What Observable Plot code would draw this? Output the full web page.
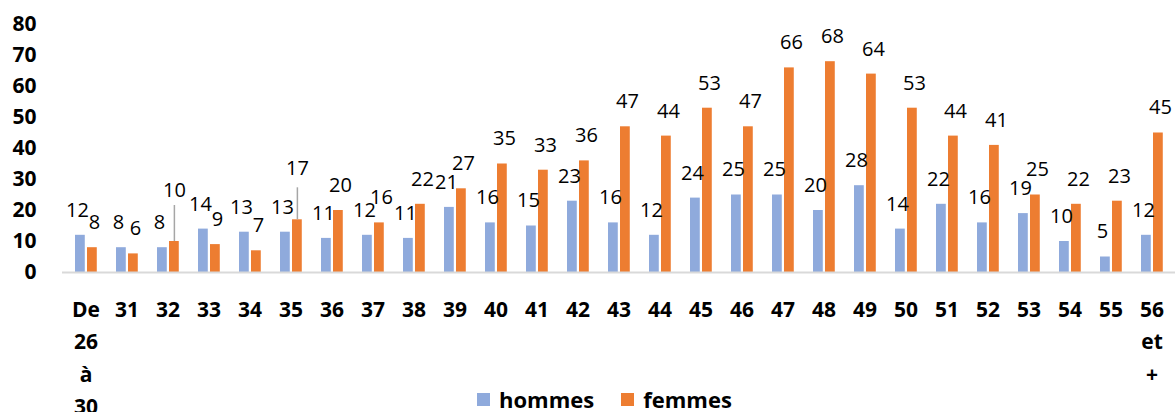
<!DOCTYPE html>
<html>
<head>
<meta charset="utf-8">
<script src="https://cdn.jsdelivr.net/npm/d3@7"></script>
<script src="https://cdn.jsdelivr.net/npm/@observablehq/plot@0.6"></script>
<style>
  html, body { margin: 0; padding: 0; background: #fff; }
  #wrap { position: relative; width: 1175px; height: 412px; font-family: "Open Sans", sans-serif; }
  #legend { position: absolute; left: 477px; top: 386px; display: flex; align-items: center;
            font: bold 22px "Open Sans", sans-serif; color: #000; line-height: 26px; }
  #legend .sw { width: 13px; height: 13px; display: inline-block; margin-right: 9px; }
  #legend .item { display: flex; align-items: center; margin-right: 27px; }
</style>
</head>
<body>
<div id="wrap"></div>
<script>
// Age groups (x categories)
const ages = ["De 26 à 30", "31", "32", "33", "34", "35", "36", "37", "38", "39", "40", "41", "42",
  "43", "44", "45", "46", "47", "48", "49", "50", "51", "52", "53", "54", "55", "56 et +"];
// Counts per age group
const hommes = [12, 8, 8, 14, 13, 13, 11, 12, 11, 21, 16, 15, 23, 16, 12, 24, 25, 25, 20, 28, 14, 22, 16, 19, 10, 5, 12];
const femmes = [8, 6, 10, 9, 7, 17, 20, 16, 22, 27, 35, 33, 36, 47, 44, 53, 47, 66, 68, 64, 53, 44, 41, 25, 22, 23, 45];
// Series names and y-axis ticks
const series = ["hommes", "femmes"];
const yTicks = [0, 10, 20, 30, 40, 50, 60, 70, 80];

const colors = { hommes: "#8FAADC", femmes: "#ED7D31" };

// One row per age group
const rows = ages.map((age, i) => ({ age, hommes: hommes[i], femmes: femmes[i] }));

// Each age band (≈41px) holds two 10px bars side by side
const bandW = 1113 / ages.length;
const slot = {
  hommes: { insetLeft: 10, insetRight: bandW - 20, dx: 15 - bandW / 2 },
  femmes: { insetLeft: 22, insetRight: bandW - 32, dx: 27 - bandW / 2 }
};

// Labels that sit higher with a leader line back to their bar
const raised = new Map([["32", 28], ["35", 24]]);

const labelStyle = { lineAnchor: "middle", fontSize: 20, fill: "#000" };

const chart = Plot.plot({
  width: 1175,
  height: 412,
  marginLeft: 62,
  marginRight: 0,
  marginTop: 24,
  marginBottom: 140,
  style: { fontFamily: "Open Sans, sans-serif", background: "transparent" },
  x: { domain: ages, padding: 0, label: null },
  y: { domain: [0, 80], label: null },
  marks: [
    Plot.axisY({ ticks: yTicks, tickSize: 0, tickPadding: 26, fontSize: 21, fontWeight: "bold", label: null }),
    Plot.axisX({
      tickSize: 0, tickPadding: 21, fontSize: 21, fontWeight: "bold",
      lineHeight: 1.55, label: null,
      tickFormat: d => d.split(" ").join("\n")
    }),
    Plot.barY(rows, { x: "age", y: "hommes", fill: colors.hommes,
      insetLeft: slot.hommes.insetLeft, insetRight: slot.hommes.insetRight }),
    Plot.barY(rows, { x: "age", y: "femmes", fill: colors.femmes,
      insetLeft: slot.femmes.insetLeft, insetRight: slot.femmes.insetRight }),
    Plot.ruleY([0], { stroke: "#d9d9d9", strokeWidth: 2 }),
    // leader lines for the raised labels
    Plot.ruleX(rows.filter(d => raised.has(d.age)), {
      x: "age", dx: slot.femmes.dx, y1: "femmes",
      y2: d => d.femmes + (raised.get(d.age) + 8) / 3.1,
      stroke: "#a6a6a6", strokeWidth: 1.5
    }),
    Plot.text(rows, { ...labelStyle, x: "age", y: "hommes", text: "hommes",
      dy: -25, dx: slot.hommes.dx - 3 }),
    Plot.text(rows.filter(d => !raised.has(d.age)), { ...labelStyle, x: "age", y: "femmes", text: "femmes",
      dy: -25, dx: slot.femmes.dx + 2 }),
    Plot.text(rows.filter(d => raised.has(d.age)), { ...labelStyle, x: "age", y: "femmes", text: "femmes",
      dy: -51, dx: slot.femmes.dx })
  ]
});

const wrap = document.getElementById("wrap");
wrap.appendChild(chart);

// Legend below the plot
const legend = document.createElement("div");
legend.id = "legend";
series.forEach(s => {
  const item = document.createElement("span");
  item.className = "item";
  const sw = document.createElement("span");
  sw.className = "sw";
  sw.style.background = colors[s];
  item.appendChild(sw);
  item.appendChild(document.createTextNode(s));
  legend.appendChild(item);
});
wrap.appendChild(legend);
</script>
</body>
</html>
